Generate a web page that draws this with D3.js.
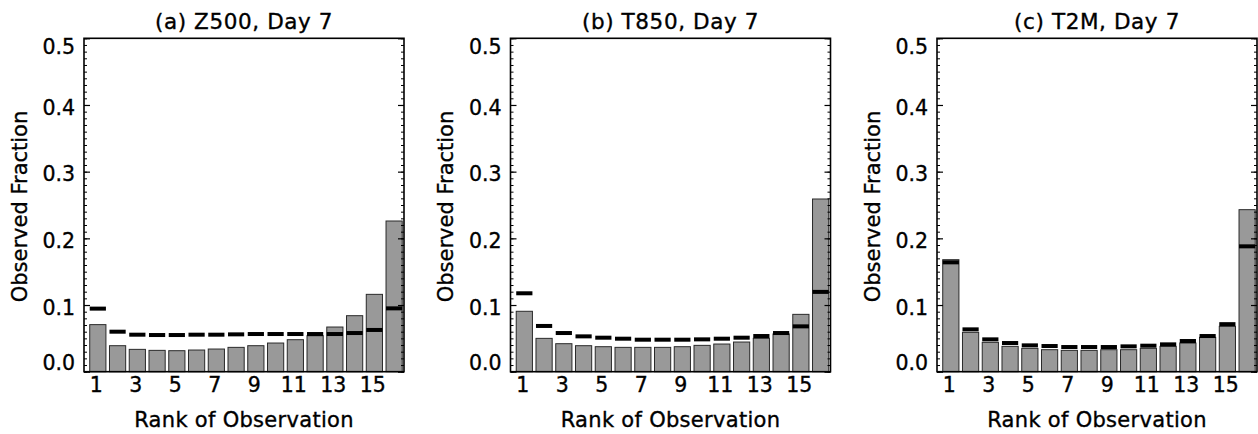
<!DOCTYPE html>
<html>
<head>
<meta charset="utf-8">
<script src="https://cdn.jsdelivr.net/npm/d3@7"></script>
<style>
  html, body { margin: 0; padding: 0; background: #fff; }
  svg { display: block; font-family: "DejaVu Sans", sans-serif; }
  text { stroke: #000; stroke-width: 0.35px; fill: #000; }
</style>
</head>
<body>
<svg id="chart" width="1258" height="434"></svg>
<script>
// ---- data ----
const ranks = d3.range(1, 17);
const rankTickLabels = [1, 3, 5, 7, 9, 11, 13, 15];
const yTickValues = [0.0, 0.1, 0.2, 0.3, 0.4, 0.5];
const panelTitles = ["(a) Z500, Day 7", "(b) T850, Day 7", "(c) T2M, Day 7"];
const xAxisTitle = "Rank of Observation";
const yAxisTitle = "Observed Fraction";

const z500Observed = [0.0706, 0.039, 0.0335, 0.032, 0.0315, 0.0325, 0.034, 0.0365, 0.039, 0.043, 0.048, 0.054, 0.067, 0.084, 0.116, 0.226];
const z500Expected = [0.0946, 0.060, 0.0555, 0.055, 0.055, 0.0555, 0.0555, 0.056, 0.0565, 0.0565, 0.0565, 0.0565, 0.0565, 0.058, 0.0626, 0.095];

const t850Observed = [0.0906, 0.050, 0.042, 0.039, 0.0375, 0.0365, 0.0365, 0.0365, 0.0375, 0.0395, 0.0415, 0.0445, 0.050, 0.0566, 0.086, 0.259];
const t850Expected = [0.1176, 0.0686, 0.058, 0.053, 0.051, 0.0495, 0.048, 0.048, 0.048, 0.0485, 0.0495, 0.051, 0.0535, 0.058, 0.068, 0.1197];

const t2mObserved = [0.168, 0.059, 0.044, 0.038, 0.035, 0.033, 0.032, 0.032, 0.033, 0.033, 0.035, 0.038, 0.043, 0.0515, 0.068, 0.243];
const t2mExpected = [0.164, 0.0635, 0.0485, 0.043, 0.0395, 0.0385, 0.037, 0.037, 0.037, 0.038, 0.039, 0.041, 0.046, 0.0535, 0.0713, 0.188];

const panels = [
  { title: panelTitles[0], obs: z500Observed, exp: z500Expected },
  { title: panelTitles[1], obs: t850Observed, exp: t850Expected },
  { title: panelTitles[2], obs: t2mObserved, exp: t2mExpected }
];

// ---- layout ----
const lefts = [84, 510.5, 937];
const pw = 320, plotTop = 38.3, plotBottom = 371.7;
const tickFont = 20.5, titleFont = 21.5, axisFont = 21;
const svg = d3.select("#chart");

panels.forEach((p, pi) => {
  const x0 = lefts[pi];
  const g = svg.append("g").attr("transform", `translate(${x0},0)`);
  const x = d3.scaleLinear().domain([0.3, 16.5]).range([0, pw]);
  const y = d3.scaleLinear().domain([0, 0.5]).range([plotBottom, plotTop]);
  const hw = x(1.41) - x(1); // bar half width

  // bars
  g.selectAll("rect.bar").data(ranks).enter().append("rect")
    .attr("class", "bar")
    .attr("x", d => x(d) - hw)
    .attr("width", 2 * hw)
    .attr("y", d => y(p.obs[d - 1]))
    .attr("height", d => y(0) - y(p.obs[d - 1]))
    .attr("fill", "#999999")
    .attr("stroke", "#2a2a2a")
    .attr("stroke-width", 1);

  // expected dashes
  g.selectAll("rect.dash").data(ranks).enter().append("rect")
    .attr("class", "dash")
    .attr("x", d => x(d) - hw)
    .attr("width", 2 * hw)
    .attr("y", d => y(p.exp[d - 1]) - 2)
    .attr("height", 4)
    .attr("fill", "#000");

  // minor ticks left & right
  const minor = d3.range(0, 0.5001, 0.01);
  const minorLeft = g.append("g").call(d3.axisLeft(y).tickValues(minor).tickSize(-3).tickFormat(""));
  const minorRight = g.append("g").attr("transform", `translate(${pw},0)`)
    .call(d3.axisRight(y).tickValues(minor).tickSize(-3).tickFormat(""));
  [minorLeft, minorRight].forEach(a => { a.select(".domain").remove(); a.selectAll("line").attr("stroke", "#000").attr("stroke-width", 1); });

  // major ticks left with labels
  const yAx = g.append("g").call(d3.axisLeft(y).tickValues(yTickValues).tickSize(-6).tickPadding(9).tickFormat(d3.format(".1f")));
  yAx.select(".domain").remove();
  yAx.selectAll("line").attr("stroke", "#000").attr("stroke-width", 1.2);
  yAx.selectAll("text")
    .attr("font-size", tickFont)
    .attr("font-family", "DejaVu Sans")
    .attr("dy", d => d === 0 ? "-0.1em" : (d === 0.5 ? "0.75em" : "0.45em"));
  const yAxR = g.append("g").attr("transform", `translate(${pw},0)`)
    .call(d3.axisRight(y).tickValues(yTickValues).tickSize(-6).tickFormat(""));
  yAxR.select(".domain").remove();
  yAxR.selectAll("line").attr("stroke", "#000").attr("stroke-width", 1.2);

  // x labels
  const xAx = g.append("g").attr("transform", `translate(0,${plotBottom})`)
    .call(d3.axisBottom(x).tickValues(rankTickLabels).tickSize(0).tickPadding(6).tickFormat(d3.format("d")));
  xAx.select(".domain").remove();
  xAx.selectAll("text")
    .attr("font-size", tickFont)
    .attr("font-family", "DejaVu Sans")
    .attr("dx", -2);

  // frame
  g.append("rect")
    .attr("x", 0).attr("y", plotTop)
    .attr("width", pw).attr("height", plotBottom - plotTop)
    .attr("fill", "none").attr("stroke", "#000").attr("stroke-width", 1.6);

  // title
  g.append("text")
    .attr("x", pw / 2).attr("y", 29)
    .attr("text-anchor", "middle")
    .attr("font-size", titleFont)
    .attr("letter-spacing", "0.6px")
    .text(p.title);

  // x title
  g.append("text")
    .attr("x", pw / 2).attr("y", 427)
    .attr("text-anchor", "middle")
    .attr("font-size", axisFont)
    .attr("letter-spacing", "0.3px")
    .text(xAxisTitle);

  // y title
  g.append("text")
    .attr("transform", `translate(${26.5 - 84},${206.5}) rotate(-90)`)
    .attr("text-anchor", "middle")
    .attr("font-size", axisFont)
    .text(yAxisTitle);
});
</script>
</body>
</html>
